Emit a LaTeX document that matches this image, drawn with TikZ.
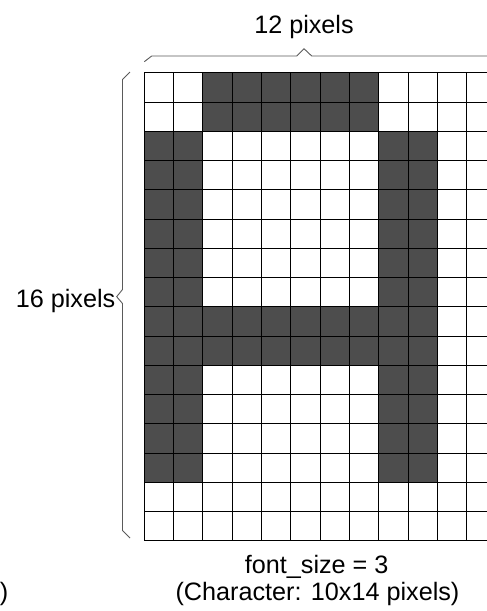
\documentclass[tikz,border=0pt]{standalone}
\usepackage{fontspec}
\setmainfont{Liberation Sans}
\definecolor{darkcell}{HTML}{4D4D4D}
\definecolor{bracegray}{HTML}{5A5A5A}
\begin{document}
\begin{tikzpicture}[x=1pt,y=-1pt,
  lbl/.style={font=\fontsize{25.2}{29}\selectfont, inner sep=0pt},
  gridline/.style={draw=black, line width=0.9pt},
  brace/.style={draw=bracegray, line width=0.9pt, line join=miter}]
\useasboundingbox (0,0) rectangle (487,611);
\clip (0,0) rectangle (487,611);
% dark cells
\foreach \r in {0,1} \foreach \c in {2,...,7}
  \fill[darkcell] ({144.3+\c*29.3},{72.7+\r*29.25}) rectangle +(29.3,29.25);
\foreach \r in {2,...,13} \foreach \c in {0,1,8,9}
  \fill[darkcell] ({144.3+\c*29.3},{72.7+\r*29.25}) rectangle +(29.3,29.25);
\foreach \r in {8,9} \foreach \c in {2,...,7}
  \fill[darkcell] ({144.3+\c*29.3},{72.7+\r*29.25}) rectangle +(29.3,29.25);
% grid
\foreach \i in {0,...,12}
  \draw[gridline] ({144.3+\i*29.3},72.7) -- ({144.3+\i*29.3},540.7);
\foreach \j in {0,...,16}
  \draw[gridline] (144.3,{72.7+\j*29.25}) -- (496,{72.7+\j*29.25});
% braces
\draw[brace] (144.3,61.7) -- (151.7,56) -- (296.7,56) -- (304,48.7) -- (311.7,56) -- (488.6,56) -- (496,61.7);
\draw[brace] (130,72) -- (122.5,79.5) -- (122.5,289.5) -- (116.7,296.7) -- (122.5,303.5) -- (122.5,530.5) -- (130,538);
% labels
\node[lbl, anchor=base] (width) at (304,33.3) {12 pixels};
\node[lbl, anchor=base east] (height) at (115.5,307.3) {16 pixels};
\node[lbl, anchor=base] (fs) at (316.7,573) {font\_size = 3};
\node[lbl, anchor=base] (chr) at (317.5,600) {(Character: 10x14 pixels)};
\node[lbl, anchor=base east] (paren) at (8.5,600) {)};
\end{tikzpicture}
\end{document}
